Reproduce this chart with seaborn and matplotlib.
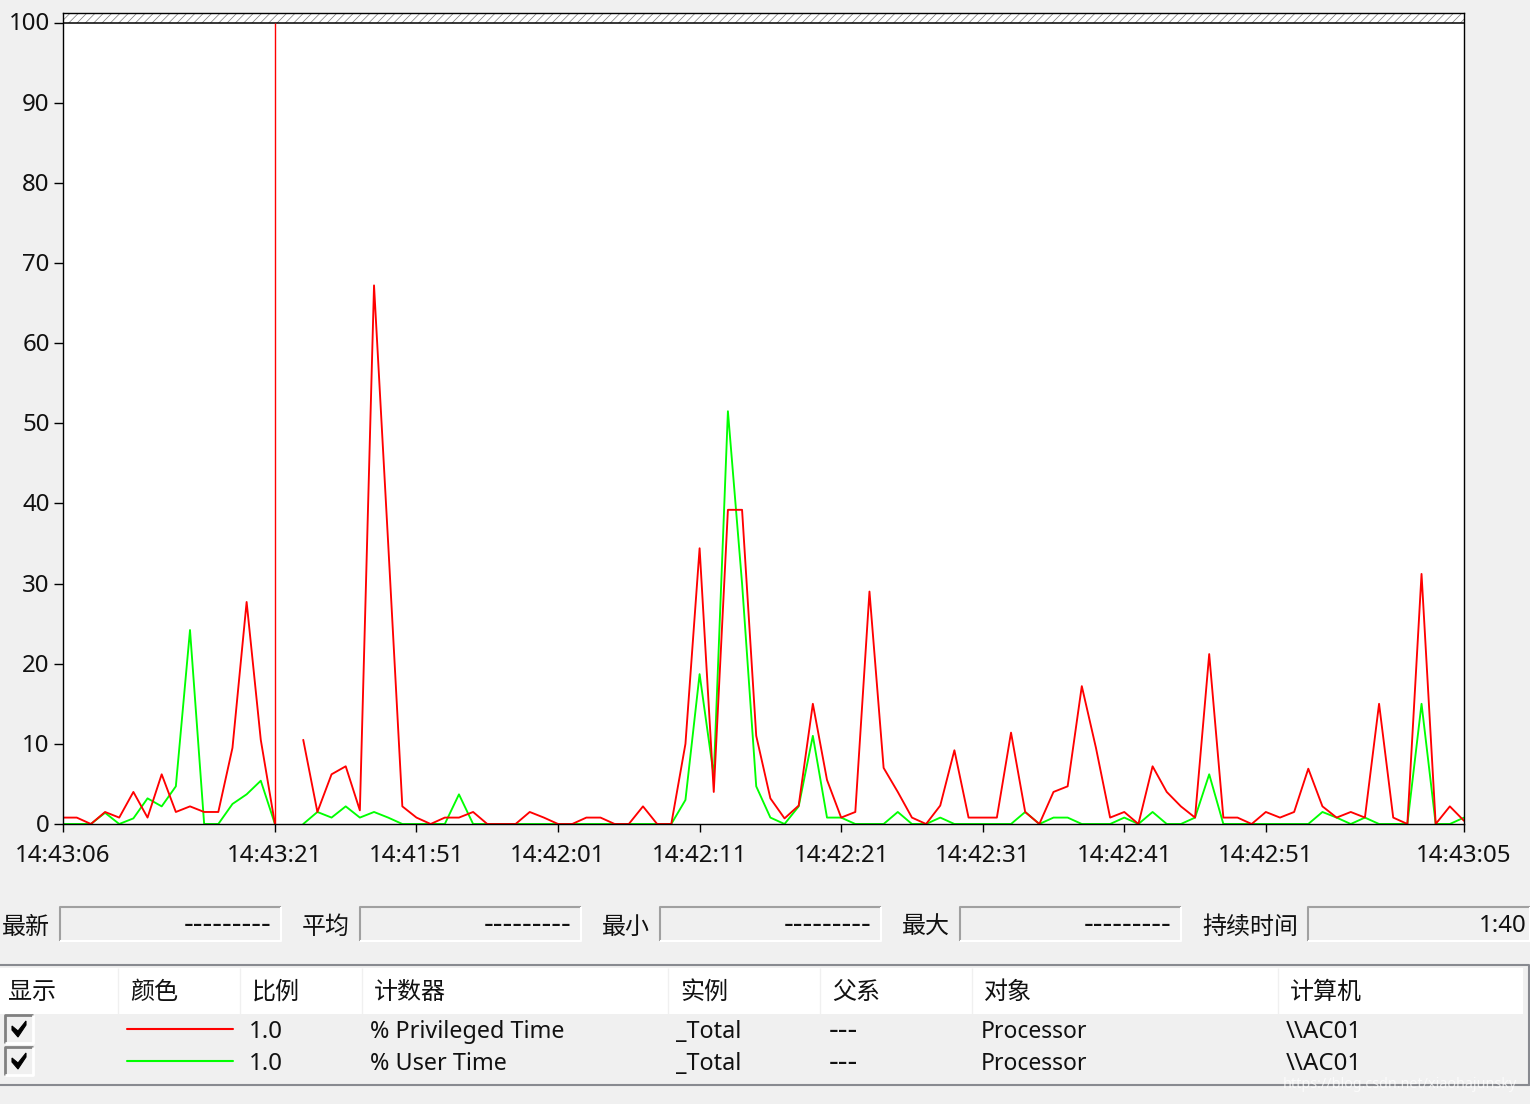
import matplotlib
matplotlib.use("Agg")
import matplotlib.pyplot as plt
from matplotlib.patches import Rectangle, Polygon
from matplotlib.transforms import ScaledTranslation
import seaborn as sns
import pandas as pd
import numpy as np

nan = float("nan")

# one sample per second, 100 samples, gap right after the time bar
privileged = [0.8, 0.8, 0, 1.5, 0.8, 4, 0.8, 6.2, 1.5, 2.2,
              1.5, 1.5, 9.5, 27.7, 10.5, 0, nan, 10.5, 1.5, 6.2,
              7.2, 1.7, 67.2, 35, 2.2, 0.8, 0, 0.8, 0.8, 1.5,
              0, 0, 0, 1.5, 0.8, 0, 0, 0.8, 0.8, 0,
              0, 2.2, 0, 0, 10, 34.4, 4, 39.2, 39.2, 11,
              3.2, 0.7, 2.3, 15, 5.5, 0.8, 1.5, 29, 7, 4,
              0.8, 0, 2.3, 9.2, 0.8, 0.8, 0.8, 11.4, 1.5, 0,
              4, 4.7, 17.2, 9.5, 0.8, 1.5, 0, 7.2, 4, 2.2,
              0.8, 21.2, 0.8, 0.8, 0, 1.5, 0.8, 1.5, 6.9, 2.2,
              0.8, 1.5, 0.8, 15, 0.8, 0, 31.2, 0, 2.2, 0.4]
user_time = [0, 0, 0, 1.4, 0, 0.7, 3.2, 2.2, 4.7, 24.2,
             0, 0, 2.5, 3.7, 5.4, 0, nan, 0, 1.5, 0.8,
             2.2, 0.8, 1.5, 0.8, 0, 0, 0, 0, 3.7, 0,
             0, 0, 0, 0, 0, 0, 0, 0, 0, 0,
             0, 0, 0, 0, 3, 18.7, 6, 51.5, 30, 4.7,
             0.8, 0, 2.2, 11, 0.8, 0.8, 0, 0, 0, 1.5,
             0, 0, 0.8, 0, 0, 0, 0, 0, 1.5, 0,
             0.8, 0.8, 0, 0, 0, 0.8, 0, 1.5, 0, 0,
             0.8, 6.2, 0, 0, 0, 0, 0, 0, 0, 1.5,
             0.8, 0, 0.8, 0, 0, 0, 15, 0, 0, 0.8]

y_ticks = [0, 10, 20, 30, 40, 50, 60, 70, 80, 90, 100]
x_ticks = [0, 15, 25, 35, 45, 55, 65, 75, 85, 99]
x_labels = ["14:43:06", "14:43:21", "14:41:51", "14:42:01", "14:42:11",
            "14:42:21", "14:42:31", "14:42:41", "14:42:51", "14:43:05"]
cursor = 15

stat_names = ["最新", "平均", "最小", "最大", "持续时间"]
stat_values = ["---------", "---------", "---------", "---------", "1:40"]
headers = ["显示", "颜色", "比例", "计数器", "实例", "父系", "对象", "计算机"]
counters = ["% Privileged Time", "% User Time"]
scales = ["1.0", "1.0"]
instances = ["_Total", "_Total"]
parents = ["---", "---"]
objects = ["Processor", "Processor"]
computers = ["\\\\AC01", "\\\\AC01"]
colors = {"% Privileged Time": "#ff0000", "% User Time": "#00ff00"}

sns.set_theme(style="white")
plt.rcParams['font.family'] = ['Noto Sans', 'Noto Sans CJK SC', 'DejaVu Sans']
plt.rcParams['hatch.linewidth'] = 0.5
FS = 17.3
FS_ROW = 16.8
FS_DASH = 21.5
INK = "#111111"
BG = "#f0f0f0"
W, H = 1530, 1104


def sunken(pa, x0, y0, x1, y1, dark="#a0a0a0", light="#ffffff", lw=1.5):
    pa.plot([x0, x0, x1], [y1, y0, y0], color=dark, lw=lw, solid_capstyle="butt")
    pa.plot([x0, x1, x1], [y1, y1, y0], color=light, lw=lw, solid_capstyle="butt")


def draw_panel(pa):
    # value boxes
    label_x = [2, 302, 602, 902, 1202]
    box_x = [(60, 281), (360, 581), (660, 881), (960, 1181), (1308, 1530)]
    for name, val, lx, (b0, b1) in zip(stat_names, stat_values, label_x, box_x):
        pa.text(lx, 928, name, fontsize=FS, va="center", ha="left", color=INK)
        sunken(pa, b0, 907, b1, 941)
        if val.startswith("-"):
            pa.text(b1 - 9, 926, val, fontsize=FS_DASH, va="center", ha="right", color=INK)
        else:
            pa.text(b1 - 3, 926, val, fontsize=FS, va="center", ha="right", color=INK)

    # counter table
    pa.add_patch(Rectangle((0, 968), 1523, 46, fc="white", ec="none"))
    pa.plot([0, 1529, 1529], [964.5, 964.5, 1085], color="#888a90", lw=1.5)
    pa.plot([0, 1529], [1085, 1085], color="#888a90", lw=1.5)
    sep_x = [118, 240, 362, 668, 820, 972, 1278]
    pa.vlines(sep_x, 968, 1014, color="#f0f0f0", lw=1)
    head_x = [8, 130, 252, 374, 680, 832, 984, 1290]
    for name, x in zip(headers, head_x):
        pa.text(x, 993, name, fontsize=FS, va="center", ha="left", color=INK)

    rows_y = [1032, 1064]
    for i, y in enumerate(rows_y):
        # checkbox
        box = y - 3
        sunken(pa, 5, box - 14, 33, box + 14, dark="#808080", light="#ffffff", lw=2)
        pa.add_patch(Polygon([(12, box - 3), (12, box + 1), (18, box + 8), (26, box - 4),
                              (26, box - 8), (18, box + 2)], fc="black", ec="black", lw=0.8))
        pa.plot([127, 233], [y - 3, y - 3], color=colors[counters[i]], lw=1.5)
        pa.text(249, y, scales[i], fontsize=FS, va="center", ha="left", color=INK)
        pa.text(370, y, counters[i], fontsize=FS_ROW, va="center", ha="left", color=INK)
        pa.text(676, y, instances[i], fontsize=FS_ROW, va="center", ha="left", color=INK)
        pa.text(829, y, parents[i], fontsize=FS_DASH, va="center", ha="left", color=INK)
        pa.text(981, y, objects[i], fontsize=FS_ROW - 0.3, va="center", ha="left", color=INK)
        pa.text(1286, y, computers[i], fontsize=FS, va="center", ha="left", color=INK)

    pa.text(1283, 1085, "https://blog.csdn.net/xiaohajunsky", fontsize=10.3, va="center",
            ha="left", color="#ffffff", alpha=0.75)


def main():
    df = pd.DataFrame({"sample": np.arange(len(privileged)),
                       counters[0]: privileged, counters[1]: user_time})
    long_df = df.melt(id_vars="sample", var_name="counter", value_name="value")
    # a missing sample splits a trace in two
    long_df["segment"] = long_df.groupby("counter")["value"].transform(lambda s: s.isna().cumsum())
    long_df = long_df.dropna(subset=["value"])

    fig = plt.figure(figsize=(W / 100, H / 100), dpi=100, facecolor=BG)

    pa = fig.add_axes([0, 0, 1, 1], zorder=0)
    pa.set_xlim(0, W)
    pa.set_ylim(H, 0)
    pa.axis("off")
    draw_panel(pa)

    ax = fig.add_axes([62.6 / W, (H - 824) / H, (1464 - 62.6) / W, (824 - 13) / H], zorder=1)
    sns.lineplot(data=long_df, x="sample", y="value", hue="counter", units="segment",
                 hue_order=[counters[1], counters[0]], palette=colors,
                 estimator=None, legend=False, linewidth=1.35, ax=ax)

    top = 100 + (22.5 - 13) / 8.015
    ax.set_xlim(0, len(privileged) - 1)
    ax.set_ylim(0, top)
    ax.set_facecolor("white")
    ax.axhspan(100, top, facecolor="white", edgecolor="#777777", hatch="////", lw=0, zorder=0)
    ax.axhline(100, color="black", lw=1.1)
    ax.vlines(cursor, 0, 100, color="#ff0000", lw=1)

    ax.set_yticks(y_ticks)
    ax.set_xticks(x_ticks)
    ax.set_xticklabels(x_labels)
    ax.set_xlabel("")
    ax.set_ylabel("")
    ax.tick_params(axis="both", bottom=True, left=True, length=6, width=1, color="black",
                   labelsize=FS, labelcolor=INK)
    ax.tick_params(axis="x", pad=8.5)
    ax.tick_params(axis="y", length=6.5, pad=2.8)
    for lbl in ax.get_yticklabels():
        lbl.set_transform(lbl.get_transform() + ScaledTranslation(0, 1 / 100, fig.dpi_scale_trans))
    for s in ax.spines.values():
        s.set_color("black")
        s.set_linewidth(1)
        s.set_zorder(5)

    fig.savefig("out.png", dpi=100, facecolor=BG)


if __name__ == '__main__':
    main()
